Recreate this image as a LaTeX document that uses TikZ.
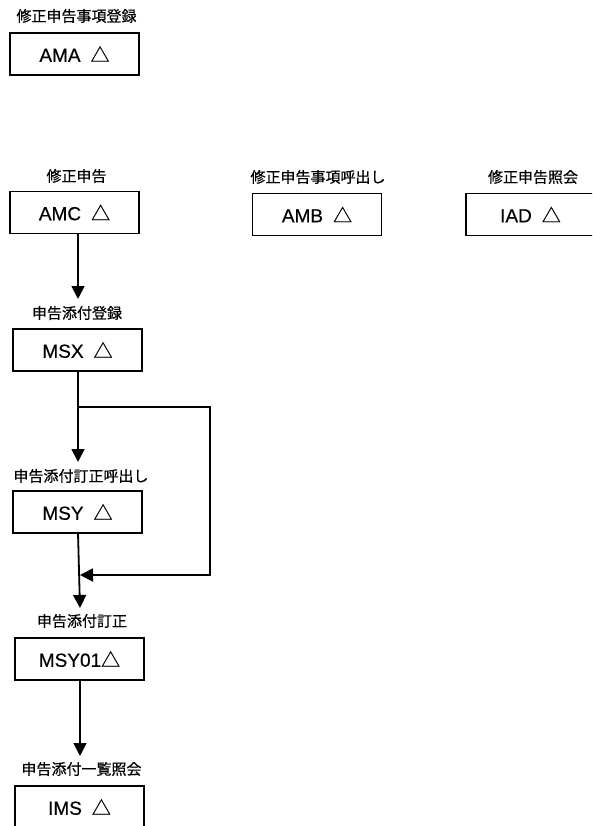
\documentclass[tikz,border=0pt]{standalone}
\usepackage{fontspec}
\setmainfont{Liberation Sans}[FakeBold=0.4]
\newfontfamily\cjk{Noto Sans CJK JP}[FakeBold=0.6]
\usetikzlibrary{arrows.meta}
\newcommand{\tri}{{\cjk △}}
\tikzset{
  box/.style={draw, line width=1.8pt, minimum width=129pt, minimum height=42pt, inner sep=0pt,
    font=\fontsize{19}{19}\selectfont},
  lbl/.style={inner sep=0pt, font=\cjk\fontsize{15}{15}\selectfont},
  conn/.style={line width=1.8pt},
  arr/.style={conn, -{Triangle[width=13pt,length=13pt]}}
}
\begin{document}
\begin{tikzpicture}[x=1pt,y=-1pt]
\clip (0,0) rectangle (592,826);
\fill[white] (0,0) rectangle (592,826);
% labels
\node[lbl] (lAMA) at (76.5,16) {修正申告事項登録};
\node[lbl] (lAMC) at (76.5,176) {修正申告};
\node[lbl] (lAMB) at (318,177) {修正申告事項呼出し};
\node[lbl] (lIAD) at (533,177) {修正申告照会};
\node[lbl] (lMSX) at (77,313) {申告添付登録};
\node[lbl] (lMSY) at (81,476) {申告添付訂正呼出し};
\node[lbl] (lMSY01) at (82,621) {申告添付訂正};
\node[lbl] (lIMS) at (81.5,769) {申告添付一覧照会};
% boxes
\node[box] (AMA) at (74.5,54) {AMA\hspace{10pt}\tri};
\node[box] (AMC) at (74.5,212.5) {AMC\hspace{10pt}\tri};
\node[box] (AMB) at (317,214.5) {AMB\hspace{10pt}\tri};
\node[box] (IAD) at (530.5,214.5) {IAD\hspace{10pt}\tri};
\node[box] (MSX) at (77.5,350) {MSX\hspace{10pt}\tri};
\node[box] (MSY) at (77.5,512) {MSY\hspace{10pt}\tri};
\node[box] (MSY01) at (79.5,659) {MSY01\tri};
\node[box] (IMS) at (79.5,807) {IMS\hspace{10pt}\tri};
% connector points
\coordinate (t1) at (78,299);
\coordinate (t2) at (78,462);
\coordinate (br) at (78,407);
\coordinate (c1) at (210,407);
\coordinate (c2) at (210,575);
\coordinate (t3) at (80,575);
\coordinate (s4) at (78,533);
\coordinate (t4) at (80,608);
\coordinate (t5) at (80,756);
% connectors
\draw[arr] (AMC.south -| t1) -- (t1);
\draw[arr] (MSX.south -| t2) -- (t2);
\draw[arr] (br) -- (c1) -- (c2) -- (t3);
\draw[arr] (s4) -- (t4);
\draw[arr] (MSY01.south -| t5) -- (t5);
\end{tikzpicture}
\end{document}
